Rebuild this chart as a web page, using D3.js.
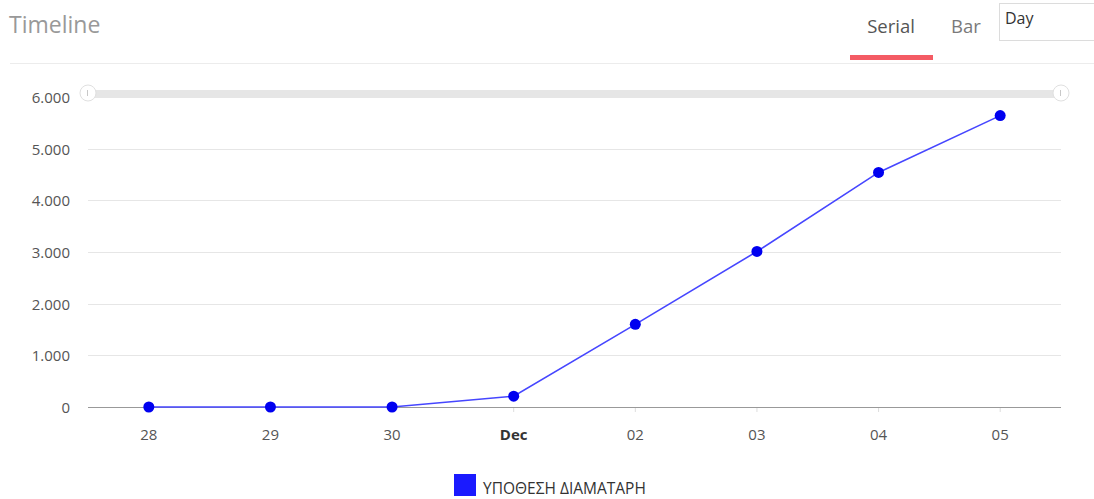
<!DOCTYPE html>
<html>
<head>
<meta charset="utf-8">
<script src="https://cdn.jsdelivr.net/npm/d3@7"></script>
<style>
  html, body { margin: 0; padding: 0; background: #fff; }
  svg { display: block; font-family: "Open Sans", sans-serif; }
</style>
</head>
<body>
<svg id="chart" width="1094" height="499"></svg>
<script>
// Daily totals for the series
const categories = ["28", "29", "30", "Dec", "02", "03", "04", "05"];
const values = [0, 0, 0, 210, 1600, 3010, 4540, 5640];
const yTicks = [0, 1000, 2000, 3000, 4000, 5000, 6000];
const seriesName = "ΥΠΟΘΕΣΗ ΔΙΑΜΑΤΑΡΗ";
const viewTabs = ["Serial", "Bar"];
const periodLabel = "Day";

const svg = d3.select("#chart");
const W = 1094;

// Header
svg.append("text").attr("x", 9).attr("y", 33)
  .attr("font-size", 23).attr("fill", "#999")
  .text("Timeline");
svg.append("line").attr("x1", 10).attr("x2", W).attr("y1", 63.5).attr("y2", 63.5)
  .attr("stroke", "#ececec").attr("stroke-width", 1);

const tabX = [891, 966];
viewTabs.forEach((t, i) => {
  svg.append("text").attr("x", tabX[i]).attr("y", 33)
    .attr("text-anchor", "middle").attr("font-size", 18.5)
    .attr("fill", i === 0 ? "#555" : "#7a7a7a").text(t);
});
svg.append("rect").attr("x", 850).attr("y", 55).attr("width", 83).attr("height", 5)
  .attr("fill", "#f45b64");

svg.append("rect").attr("x", 999.5).attr("y", 3.5).attr("width", 100).attr("height", 37)
  .attr("fill", "#fff").attr("stroke", "#dcdcdc");
svg.append("text").attr("x", 1005).attr("y", 24).attr("font-size", 16).attr("fill", "#333")
  .text(periodLabel);

// Plot area
const left = 88, right = 1061;
const x = d3.scaleBand().domain(categories).range([left, right]).padding(0);
const y = d3.scaleLinear().domain([0, 6000]).range([407, 97]);
const cx = d => x(d) + x.bandwidth() / 2;

// Grid lines
svg.append("g").selectAll("line").data(yTicks.filter(v => v > 0)).join("line")
  .attr("x1", left).attr("x2", right)
  .attr("y1", d => Math.round(y(d)) + 0.5).attr("y2", d => Math.round(y(d)) + 0.5)
  .attr("stroke", "#e6e6e6");

// Y axis labels
const fmt = v => d3.format(",")(v).replace(/,/g, ".");
svg.append("g").selectAll("text").data(yTicks).join("text")
  .attr("x", 70).attr("y", d => y(d) + 6)
  .attr("text-anchor", "end").attr("font-size", 15).attr("fill", "#555")
  .text(fmt);

// Scrollbar on top
svg.append("rect").attr("x", left).attr("y", 90).attr("width", right - left).attr("height", 7)
  .attr("fill", "#e6e6e6");
[left, right].forEach(hx => {
  svg.append("circle").attr("cx", hx).attr("cy", 93).attr("r", 8)
    .attr("fill", "#fff").attr("stroke", "#e0e0e0");
  svg.append("line").attr("x1", hx - 0.5).attr("x2", hx - 0.5).attr("y1", 90).attr("y2", 96)
    .attr("stroke", "#c8c8c8");
});

// X axis
const xAxis = d3.axisBottom(x).tickSize(5).tickPadding(17);
const gx = svg.append("g").attr("transform", "translate(0,407)").call(xAxis);
gx.select(".domain").attr("stroke", "#999").attr("d", `M${left},0.5H${right}`);
gx.selectAll(".tick line").attr("stroke", "#ddd").attr("y1", 1);
gx.selectAll(".tick text").attr("font-size", 15)
  .attr("font-family", "Open Sans, sans-serif")
  .attr("font-weight", d => d === "Dec" ? 700 : 400)
  .attr("fill", d => d === "Dec" ? "#333" : "#555");

// Series line and points
const line = d3.line().x((d, i) => cx(categories[i])).y(d => y(d));
svg.append("path").datum(values).attr("d", line)
  .attr("fill", "none").attr("stroke", "#4646ff").attr("stroke-width", 1.6);
svg.append("g").selectAll("circle").data(values).join("circle")
  .attr("cx", (d, i) => cx(categories[i])).attr("cy", d => y(d)).attr("r", 5.5)
  .attr("fill", "#0000f0");

// Legend
svg.append("rect").attr("x", 454).attr("y", 474).attr("width", 22).attr("height", 22)
  .attr("fill", "#1a1aff");
svg.append("text").attr("x", 483).attr("y", 494).attr("font-size", 15.5).attr("fill", "#333")
  .text(seriesName);
</script>
</body>
</html>
